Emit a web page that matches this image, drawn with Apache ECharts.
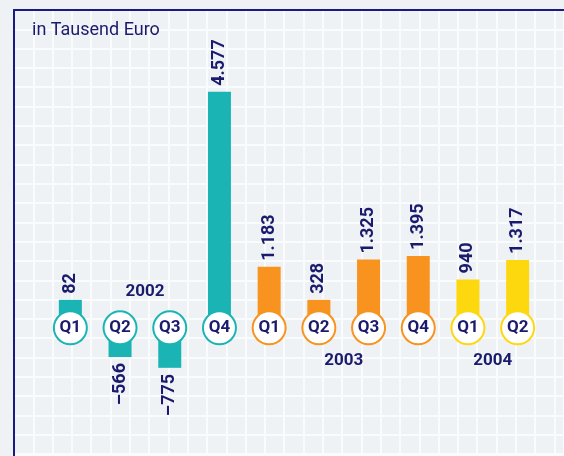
<!DOCTYPE html>
<html>
<head>
<meta charset="utf-8">
<script src="https://cdn.jsdelivr.net/npm/echarts@6/dist/echarts.min.js"></script>
<style>
html, body { margin: 0; padding: 0; background: #eff2f4; }
#chart { width: 564px; height: 456px; }
</style>
</head>
<body>
<div id="chart"></div>
<script>
var years = ['2002', '2002', '2002', '2002', '2003', '2003', '2003', '2003', '2004', '2004'];
var quarters = ['Q1', 'Q2', 'Q3', 'Q4', 'Q1', 'Q2', 'Q3', 'Q4', 'Q1', 'Q2'];
var values = [82, -566, -775, 4577, 1183, 328, 1325, 1395, 940, 1317];
var yearColors = { '2002': '#1bb4b4', '2003': '#f7931e', '2004': '#fdd80f' };
var unitLabel = 'in Tausend Euro';

var navy = '#1b1b6e';
var font = 'Roboto';

function fmt(v) {
  var s = String(Math.abs(v));
  if (s.length > 3) s = s.slice(0, s.length - 3) + '.' + s.slice(-3);
  return (v < 0 ? '\u2013' : '') + s;
}

var cats = [];
for (var i = 0; i < values.length; i++) cats.push(years[i] + ' ' + quarters[i]);

var barData = values.map(function (v, i) {
  return {
    value: v,
    itemStyle: { color: yearColors[years[i]] },
    label: v < 0
      ? { position: 'bottom', align: 'right' }
      : { position: 'top', align: 'left' }
  };
});

var circleData = values.map(function (v, i) {
  return {
    value: [i, 0],
    itemStyle: { borderColor: yearColors[years[i]] }
  };
});

var chart = echarts.init(document.getElementById('chart'));
var option = {
  animation: false,
  backgroundColor: '#eff2f4',
  title: {
    text: unitLabel,
    left: 27,
    top: 16,
    textStyle: { color: navy, fontFamily: font, fontSize: 18, fontWeight: 'normal' }
  },
  grid: [
    { left: 14, top: 10, right: 0, bottom: 0 },  // background grid + frame
    { left: 45.5, right: 21.5, top: 70, height: 361 }
  ],
  xAxis: [{
    type: 'value', gridIndex: 0, min: 0, max: 28.5, interval: 1, position: 'top',
    axisLine: { show: true, onZero: false, lineStyle: { color: '#1a1a80', width: 2 } },
    axisTick: { show: false }, axisLabel: { show: false },
    splitLine: { show: true, lineStyle: { color: '#fafbfc', width: 2 } }
  }, {
    type: 'category', gridIndex: 1, data: cats, show: false
  }],
  yAxis: [{
    type: 'value', gridIndex: 0, min: 0, max: 23.1, interval: 1, inverse: true,
    axisLine: { show: true, onZero: false, lineStyle: { color: '#1a1a80', width: 2 } },
    axisTick: { show: false }, axisLabel: { show: false },
    splitLine: { show: true, lineStyle: { color: '#fafbfc', width: 2 } }
  }, {
    type: 'value', gridIndex: 1, min: -2000, max: 5000, show: false
  }],
  series: [{
    type: 'bar',
    xAxisIndex: 1, yAxisIndex: 1,
    barWidth: 23,
    barMinHeight: 28,
    data: barData,
    label: {
      show: true,
      rotate: 90,
      verticalAlign: 'middle',
      distance: 6,
      color: navy,
      fontFamily: font,
      fontSize: 18,
      fontWeight: 'bold',
      formatter: function (p) { return fmt(values[p.dataIndex]); }
    }
  }, {
    type: 'scatter',
    xAxisIndex: 1, yAxisIndex: 1,
    z: 3,
    symbolSize: 33,
    data: circleData,
    itemStyle: { color: '#ffffff', borderWidth: 2, opacity: 1 },
    label: {
      show: true,
      position: 'inside',
      color: navy,
      fontFamily: font,
      fontSize: 17,
      fontWeight: 'bold',
      formatter: function (p) { return quarters[p.dataIndex]; }
    }
  }]
};
chart.setOption(option);

// year captions, centred between two quarters of the year
var yearCaptions = [
  { text: '2002', from: 1, to: 2, y: 292 },
  { text: '2003', from: 5, to: 6, y: 361 },
  { text: '2004', from: 8, to: 9, y: 361 }
];
var elements = yearCaptions.map(function (c) {
  var x1 = chart.convertToPixel({ xAxisIndex: 1 }, cats[c.from]);
  var x2 = chart.convertToPixel({ xAxisIndex: 1 }, cats[c.to]);
  return {
    type: 'text',
    x: (x1 + x2) / 2,
    y: c.y,
    style: {
      text: c.text, fill: navy, font: 'bold 17px Roboto',
      textAlign: 'center', textVerticalAlign: 'middle'
    },
    z: 10
  };
});
chart.setOption({ graphic: elements });
</script>
</body>
</html>
